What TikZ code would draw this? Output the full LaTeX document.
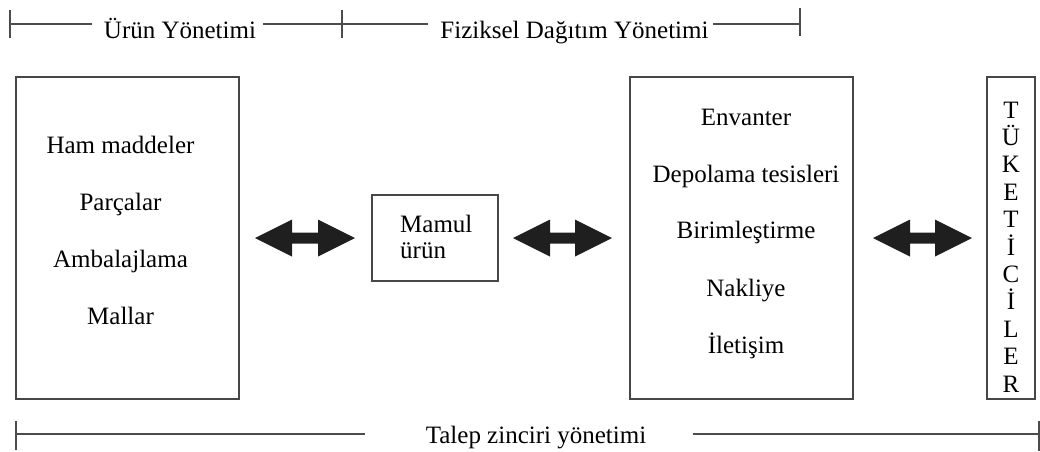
\documentclass[tikz,border=0pt]{standalone}
\usepackage{fontspec}
\setmainfont{Liberation Serif}
\usetikzlibrary{calc}

\tikzset{
  frame/.style={draw=black!72, line width=1.5pt, inner sep=0pt, fill=white},
  label/.style={font=\fontsize{25}{30}\selectfont, inner sep=0pt, anchor=base},
  rule/.style={draw=black!70, line width=1.6pt},
  arrowfill/.style={fill=black!88},
}

% thick two-headed block arrow between two named points
\newcommand\fatarrow[2]{%
  \fill[arrowfill] let \p1=(#1), \p2=(#2) in
    (\x1,\y1) -- (\x1+37pt,\y1+18.5pt) -- (\x1+37pt,\y1+5.5pt)
    -- (\x2-37pt,\y2+5.5pt) -- (\x2-37pt,\y2+18.5pt) -- (\x2,\y2)
    -- (\x2-37pt,\y2-18.5pt) -- (\x2-37pt,\y2-5.5pt)
    -- (\x1+37pt,\y1-5.5pt) -- (\x1+37pt,\y1-18.5pt) -- cycle;}

\begin{document}
\begin{tikzpicture}[x=1pt, y=-1pt]
\useasboundingbox (0,0) rectangle (1040,451);

% ---- boxes ----
\node[frame, minimum width=223pt, minimum height=322pt] (supply) at (127.5,238) {};
\node[frame, minimum width=126pt, minimum height=86pt]  (product) at (435,238) {};
\node[frame, minimum width=223pt, minimum height=322pt] (distrib) at (741.5,238) {};
\node[frame, minimum width=48pt,  minimum height=322pt] (consumers) at (1011,238) {};

% ---- box contents ----
\node[label] (s1) at (120.5,153) {Ham maddeler};
\node[label] (s2) at (120.5,210) {Parçalar};
\node[label] (s3) at (120.5,267) {Ambalajlama};
\node[label] (s4) at (120.5,324) {Mallar};

\node[label, anchor=base west] (p1) at (400,232) {Mamul};
\node[label, anchor=base west] (p2) at (400,258) {ürün};

\node[label] (d1) at (746,125) {Envanter};
\node[label] (d2) at (746,182) {Depolama tesisleri};
\node[label] (d3) at (746,238) {Birimleştirme};
\node[label] (d4) at (746,296) {Nakliye};
\node[label] (d5) at (746,353) {İletişim};

\foreach \ch [count=\i from 0] in {T,Ü,K,E,T,İ,C,İ,L,E,R}
  \node[label] (c\i) at (1011,118+27.4*\i) {\ch};

% ---- block arrows ----
\coordinate (a1l) at (255,238); \coordinate (a1r) at (355,238);
\coordinate (a2l) at (513,238); \coordinate (a2r) at (612,238);
\coordinate (a3l) at (873,238); \coordinate (a3r) at (972,238);
\fatarrow{a1l}{a1r}
\fatarrow{a2l}{a2r}
\fatarrow{a3l}{a3r}

% ---- top span: product and physical distribution management ----
\node[label] (pm) at (180,38) {Ürün Yönetimi};
\node[label] (pdm) at (574.5,38) {Fiziksel Dağıtım Yönetimi};
\coordinate (t0) at (10,24);  \coordinate (t0a) at (10,10);  \coordinate (t0b) at (10,38);
\coordinate (t1) at (342,24); \coordinate (t1a) at (342,10); \coordinate (t1b) at (342,38);
\coordinate (t2) at (800,24); \coordinate (t2a) at (800,8);  \coordinate (t2b) at (800,36);
\coordinate (e0) at (92,24);  \coordinate (e1) at (263,24);
\coordinate (e2) at (428,24); \coordinate (e3) at (713,24);
\draw[rule] (t0a) -- (t0b);
\draw[rule] (t1a) -- (t1b);
\draw[rule] (t2a) -- (t2b);
\draw[rule] (t0) -- (e0);
\draw[rule] (e1) -- (e2);
\draw[rule] (e3) -- (t2);

% ---- bottom span: demand chain management ----
\node[label] (dcm) at (536,443) {Talep zinciri yönetimi};
\coordinate (b0) at (16,434);   \coordinate (b0a) at (16,421);   \coordinate (b0b) at (16,450);
\coordinate (b1) at (1039,434); \coordinate (b1a) at (1039,421); \coordinate (b1b) at (1039,451);
\coordinate (f0) at (365,434);  \coordinate (f1) at (693,434);
\draw[rule] (b0a) -- (b0b);
\draw[rule] (b1a) -- (b1b);
\draw[rule] (b0) -- (f0);
\draw[rule] (f1) -- (b1);
\end{tikzpicture}
\end{document}
